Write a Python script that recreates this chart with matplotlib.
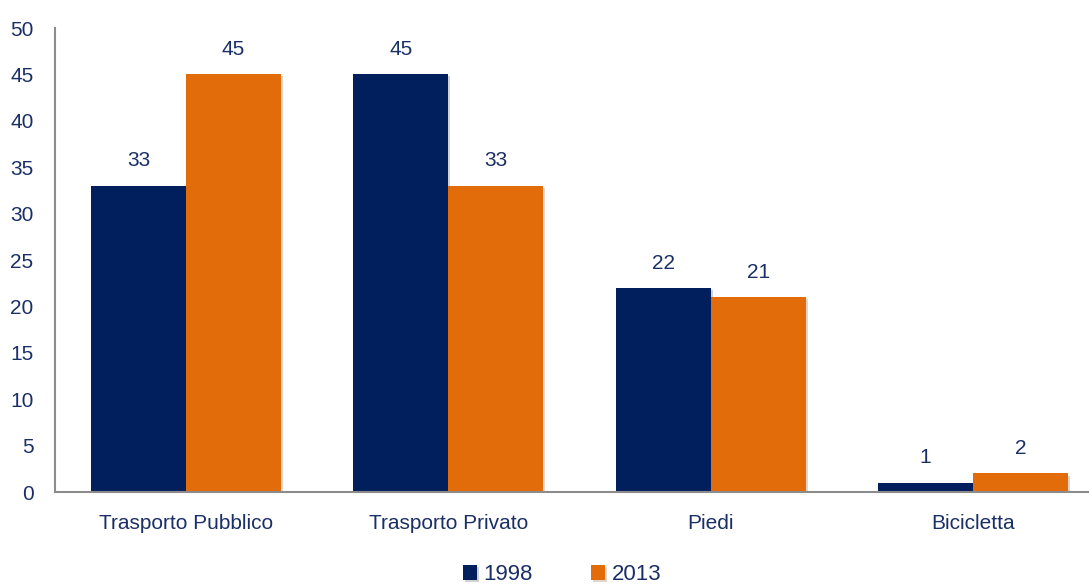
import matplotlib.pyplot as plt
import matplotlib.patheffects as pe
import numpy as np

plt.rcParams['font.family'] = ['Liberation Sans', 'DejaVu Sans']

categories = ['Trasporto Pubblico', 'Trasporto Privato', 'Piedi', 'Bicicletta']
years = ['1998', '2013']
values_1998 = [33, 45, 22, 1]
values_2013 = [45, 33, 21, 2]

navy = '#001f5c'
orange = '#e36c0a'
text_col = '#1a2f66'

fig = plt.figure(figsize=(10.89, 5.86), dpi=100)
# the plot area runs a little past the right edge of the figure
ax = fig.add_axes([55 / 1089, 94 / 586, 1049 / 1089, 464 / 586])

x = np.arange(len(categories))
w = 0.362
shadow = [pe.SimplePatchShadow(offset=(1.5, -1.5), alpha=0.18), pe.Normal()]
b1 = ax.bar(x - w / 2, values_1998, w, color=navy, label=years[0], path_effects=shadow)
b2 = ax.bar(x + w / 2, values_2013, w, color=orange, label=years[1], path_effects=shadow)

for bars in (b1, b2):
    for rect in bars:
        h = rect.get_height()
        ax.annotate(f'{h:g}', (rect.get_x() + rect.get_width() / 2, h),
                    xytext=(0, 11), textcoords='offset points',
                    ha='center', va='bottom', fontsize=15, color=text_col)

ax.set_xlim(-0.5, 3.5)
ax.set_ylim(0, 50)
ax.set_yticks(range(0, 51, 5))
ax.set_xticks(x)
ax.set_xticklabels(categories)
ax.tick_params(axis='both', length=0, labelsize=15, colors=text_col)
ax.tick_params(axis='y', pad=15.5)
ax.tick_params(axis='x', pad=16)

for s in ('top', 'right'):
    ax.spines[s].set_visible(False)
for s in ('left', 'bottom'):
    ax.spines[s].set_color('#8c8c8c')
    ax.spines[s].set_linewidth(1.5)

leg = fig.legend(loc='center', bbox_to_anchor=(562 / 1089, 11 / 586), ncol=2,
                 frameon=False, fontsize=16, handlelength=0.65, handleheight=0.65,
                 handletextpad=0.3, columnspacing=2.6, labelcolor=text_col)

fig.savefig('out.png', dpi=100)
